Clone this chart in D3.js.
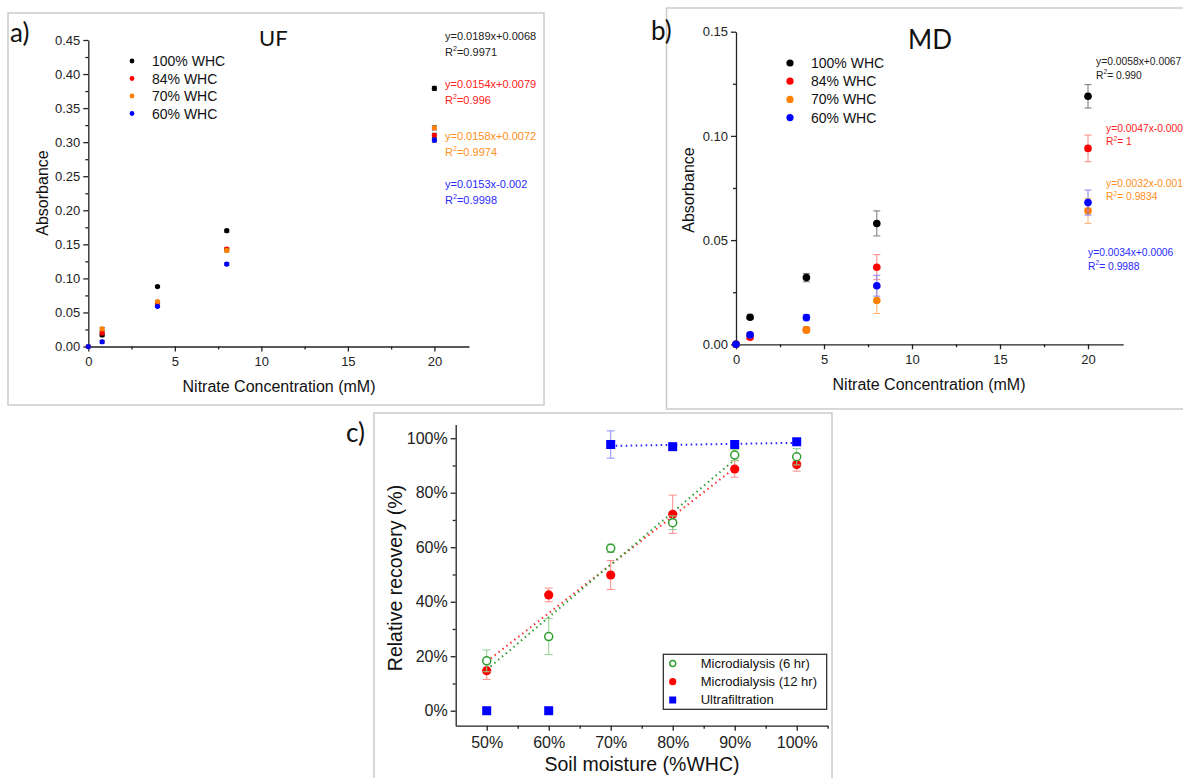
<!DOCTYPE html>
<html lang="en">
<head>
<meta charset="UTF-8">
<title>Nitrate recovery</title>
<script src="https://d3js.org/d3.v7.min.js"></script>
<style>
  body { margin: 0; background: #fff; }
  svg { display: block; font-family: "Liberation Sans", Arial, sans-serif; }
  .tick text { fill: #222; }
  .domain, .tick line { stroke: #222; stroke-width: 1.3; }
</style>
</head>
<body>
<div id="chart"></div>
<script>
// ---- data: calibration (UF) ----
const concUF = [0, 0.8, 4, 8, 20];
const uf100 = [0, 0.017, 0.088, 0.170, 0.379];
const uf84  = [0, 0.020, 0.064, 0.143, 0.310];
const uf70  = [0, 0.026, 0.066, 0.141, 0.321];
const uf60  = [0, 0.007, 0.059, 0.121, 0.303];
const ufErr = [0, 0.002, 0.001, 0.002, 0.003];

// ---- data: calibration (MD) ----
const concMD = [0, 0.8, 4, 8, 20];
const md100 = [0, 0.013, 0.032, 0.058, 0.119];
const md84  = [0, 0.0034, 0.007, 0.037, 0.094];
const md70  = [0, 0.0045, 0.0069, 0.021, 0.064];
const md60  = [0, 0.0045, 0.0128, 0.0281, 0.068];
const md100Err = [0, 0.001, 0.002, 0.006, 0.0056];
const md84Err  = [0, 0.001, 0.001, 0.006, 0.0064];
const md70Err  = [0, 0.001, 0.0015, 0.0062, 0.006];
const md60Err  = [0, 0.001, 0.0015, 0.005, 0.006];

const whcLabels = ["100% WHC", "84% WHC", "70% WHC", "60% WHC"];
const whcColors = ["#000000", "#ff0000", "#ff8000", "#0000ff"];
const errColors = ["#777777", "#ff8080", "#ffb070", "#8080ff"];
const textColors = ["#222222", "#ff2020", "#ff9020", "#2a2aff"];

const ufEq = [["y=0.0189x+0.0068", "=0.9971"], ["y=0.0154x+0.0079", "=0.996"],
              ["y=0.0158x+0.0072", "=0.9974"], ["y=0.0153x-0.002", "=0.9998"]];
const mdEq = [["y=0.0058x+0.0067", "= 0.990"], ["y=0.0047x-0.000", "= 1"],
              ["y=0.0032x-0.001", "= 0.9834"], ["y=0.0034x+0.0006", "= 0.9988"]];

// ---- data: relative recovery ----
const moisture = [50, 60, 70, 80, 90, 100];
const md6h  = [18.3, 27.2, 59.6, 69.0, 93.8, 93.2];
const md6hErr = [4, 6.6, 1.5, 2.5, 2, 3];
const md12h = [14.7, 42.5, 49.8, 72.1, 88.7, 90.4];
const md12hErr = [3.2, 2.5, 5.3, 7, 3, 2.5];
const ufRec = [0, 0, 97.7, 96.9, 97.7, 98.7];
const ufRecErr = [0, 0, 5, 0.8, 0.8, 0.8];
const recLabels = ["Microdialysis (6 hr)", "Microdialysis (12 hr)", "Ultrafiltration"];

const svg = d3.select("#chart").append("svg")
    .attr("width", 1183).attr("height", 778);
svg.append("rect").attr("width", 1183).attr("height", 778).attr("fill", "#fff");

// panel frames
[[8, 13, 536, 392], [666.5, 8, 540, 401], [374, 413, 458, 380]].forEach(f => {
  svg.append("rect").attr("x", f[0]).attr("y", f[1]).attr("width", f[2]).attr("height", f[3])
     .attr("fill", "none").attr("stroke", "#cccccc").attr("stroke-width", 1.5);
});

function axes(x, y, o) {
  const y0 = y.range()[0], x0 = x.range()[0];
  const bx = svg.append("g").attr("transform", "translate(0," + y0 + ")");
  bx.call(d3.axisBottom(x).tickValues(o.xMinor).tickSize(3).tickSizeOuter(0).tickFormat(""));
  bx.append("g").call(d3.axisBottom(x).tickValues(o.xMajor).tickSize(5).tickSizeOuter(0).tickFormat(o.xFmt))
    .call(g => g.select(".domain").remove())
    .selectAll("text").style("font-size", o.fs + "px").attr("dy", "0.9em");
  const ly = svg.append("g").attr("transform", "translate(" + x0 + ",0)");
  ly.call(d3.axisLeft(y).tickValues(o.yMinor).tickSize(3).tickSizeOuter(0).tickFormat(""));
  ly.append("g").call(d3.axisLeft(y).tickValues(o.yMajor).tickSize(5).tickSizeOuter(0).tickFormat(o.yFmt))
    .call(g => g.select(".domain").remove())
    .selectAll("text").style("font-size", o.fs + "px");
  svg.selectAll(".domain").attr("stroke-width", 1.5);
}

function label(x, y, t, size, opts) {
  const el = svg.append("text").attr("x", x).attr("y", y).text(t)
    .style("font-size", size + "px").attr("fill", "#111");
  if (opts && opts.anchor) el.attr("text-anchor", opts.anchor);
  if (opts && opts.rot) el.attr("transform", "rotate(-90," + x + "," + y + ")");
  if (opts && opts.family) el.style("font-family", opts.family);
  return el;
}

function eqText(x, y, lines, color, size, gap) {
  svg.append("text").attr("x", x).attr("y", y).text(lines[0])
     .style("font-size", size + "px").attr("fill", color);
  const t = svg.append("text").attr("x", x).attr("y", y + gap)
     .style("font-size", size + "px").attr("fill", color);
  t.append("tspan").text("R");
  t.append("tspan").text("2").attr("dy", -size * 0.4).style("font-size", (size * 0.65) + "px");
  t.append("tspan").text(lines[1]).attr("dy", size * 0.4);
}

function points(x, y, xs, ys, errs, color, ecolor, r, cap) {
  const g = svg.append("g");
  xs.forEach((xv, i) => {
    const e = errs[i];
    if (e > 0) {
      const cx = x(xv);
      g.append("line").attr("x1", cx).attr("x2", cx).attr("y1", y(ys[i] - e)).attr("y2", y(ys[i] + e))
        .attr("stroke", ecolor).attr("stroke-width", 1);
      [ys[i] - e, ys[i] + e].forEach(v => g.append("line")
        .attr("x1", cx - cap).attr("x2", cx + cap).attr("y1", y(v)).attr("y2", y(v))
        .attr("stroke", ecolor).attr("stroke-width", 1));
    }
  });
  g.selectAll("circle").data(xs).enter().append("circle")
    .attr("cx", d => x(d)).attr("cy", (d, i) => y(ys[i])).attr("r", r).attr("fill", color);
}

// ================= panel a (UF) =================
const xA = d3.scaleLinear().domain([0, 22]).range([88.3, 469]);
const yA = d3.scaleLinear().domain([0, 0.45]).range([346.5, 40]);
axes(xA, yA, {
  xMajor: [0, 5, 10, 15, 20], xMinor: [2.5, 7.5, 12.5, 17.5],
  yMajor: d3.range(0, 0.451, 0.05), yMinor: d3.range(0.025, 0.45, 0.05),
  xFmt: d3.format("d"), yFmt: d3.format(".2f"), fs: 13
});
const ufSeries = [uf100, uf84, uf70, uf60];
ufSeries.forEach((s, k) => points(xA, yA, concUF, s, ufErr, whcColors[k], "#333", 2.6, 2.5));
whcLabels.forEach((l, k) => {
  svg.append("circle").attr("cx", 132).attr("cy", 61 + k * 17.5).attr("r", 2.4).attr("fill", whcColors[k]);
  label(152, 66 + k * 17.5, l, 14);
});
[40, 88, 140, 188].forEach((yy, k) => eqText(445, yy, ufEq[k], textColors[k], 11, 15.5));
label(259, 46, "UF", 22, {family: "Lato, 'Open Sans', sans-serif"});
label(10, 42, "a)", 26, {family: "Lato, 'Open Sans', sans-serif"});
label(279, 392, "Nitrate Concentration (mM)", 16, {anchor: "middle"});
label(48, 193, "Absorbance", 16, {anchor: "middle", rot: true});

// ================= panel b (MD) =================
const xB = d3.scaleLinear().domain([0, 22]).range([736, 1123.2]);
const yB = d3.scaleLinear().domain([0, 0.15]).range([344.3, 31.7]);
axes(xB, yB, {
  xMajor: [0, 5, 10, 15, 20], xMinor: [2.5, 7.5, 12.5, 17.5],
  yMajor: [0, 0.05, 0.10, 0.15], yMinor: [0.025, 0.075, 0.125],
  xFmt: d3.format("d"), yFmt: d3.format(".2f"), fs: 13
});
const mdSeries = [md100, md84, md70, md60];
const mdErrs = [md100Err, md84Err, md70Err, md60Err];
mdSeries.forEach((s, k) => points(xB, yB, concMD, s, mdErrs[k], whcColors[k], errColors[k], 3.8, 3.5));
whcLabels.forEach((l, k) => {
  svg.append("circle").attr("cx", 790).attr("cy", 63 + k * 18.2).attr("r", 3.6).attr("fill", whcColors[k]);
  label(811, 68 + k * 18.2, l, 14);
});
[[1096, 65], [1106, 131.5], [1106, 186.5], [1088, 256]].forEach((p, k) =>
  eqText(p[0], p[1], mdEq[k], textColors[k], 10.3, 13.5));
label(908, 49, "MD", 26, {family: "Lato, 'Open Sans', sans-serif"});
label(651, 40, "b)", 26, {family: "Lato, 'Open Sans', sans-serif"});
label(929, 390, "Nitrate Concentration (mM)", 16, {anchor: "middle"});
label(694, 190, "Absorbance", 16, {anchor: "middle", rot: true});

// ================= panel c (recovery) =================
const xC = d3.scaleLinear().domain([45, 105]).range([455.7, 827.7]);
const yC = d3.scaleLinear().domain([-5.5, 105]).range([725.7, 424.6]);
const pct = d => d + "%";
axes(xC, yC, {
  xMajor: moisture, xMinor: [55, 65, 75, 85, 95, 105],
  yMajor: [0, 20, 40, 60, 80, 100], yMinor: [10, 30, 50, 70, 90],
  xFmt: pct, yFmt: pct, fs: 16
});

// linear fits of the plotted points
function fit(xs, ys) {
  const mx = d3.mean(xs), my = d3.mean(ys);
  const b = d3.sum(xs, (v, i) => (v - mx) * (ys[i] - my)) / d3.sum(xs, v => (v - mx) ** 2);
  return v => my + b * (v - mx);
}
const fits = [
  [moisture.slice(0, 5), md12h.slice(0, 5), "#ff3030"],
  [moisture.slice(0, 5), md6h.slice(0, 5), "#2e9e2e"],
  [moisture.slice(2), ufRec.slice(2), "#2020ff"]
];
fits.forEach(f => {
  const fn = fit(f[0], f[1]);
  const a = f[0][0], b = f[0][f[0].length - 1];
  svg.append("line").attr("x1", xC(a)).attr("x2", xC(b)).attr("y1", yC(fn(a))).attr("y2", yC(fn(b)))
    .attr("stroke", f[2]).attr("stroke-width", 2).attr("stroke-dasharray", "1.5,3.5");
});

points(xC, yC, moisture, md12h, md12hErr, "#ff0000", "#ff8c8c", 4.6, 4);
// open circles
(function () {
  const g = svg.append("g");
  moisture.forEach((m, i) => {
    const cx = xC(m), e = md6hErr[i];
    g.append("line").attr("x1", cx).attr("x2", cx).attr("y1", yC(md6h[i] - e)).attr("y2", yC(md6h[i] + e))
      .attr("stroke", "#8fcf8f").attr("stroke-width", 1);
    [md6h[i] - e, md6h[i] + e].forEach(v => g.append("line")
      .attr("x1", cx - 4).attr("x2", cx + 4).attr("y1", yC(v)).attr("y2", yC(v))
      .attr("stroke", "#8fcf8f").attr("stroke-width", 1));
  });
  g.selectAll("circle").data(moisture).enter().append("circle")
    .attr("cx", d => xC(d)).attr("cy", (d, i) => yC(md6h[i])).attr("r", 4)
    .attr("fill", "#fff").attr("stroke", "#2e9e2e").attr("stroke-width", 1.5);
})();
// squares
(function () {
  const g = svg.append("g");
  moisture.forEach((m, i) => {
    const cx = xC(m), e = ufRecErr[i];
    if (e > 1) {
      g.append("line").attr("x1", cx).attr("x2", cx).attr("y1", yC(ufRec[i] - e)).attr("y2", yC(ufRec[i] + e))
        .attr("stroke", "#8c8cff").attr("stroke-width", 1);
      [ufRec[i] - e, ufRec[i] + e].forEach(v => g.append("line")
        .attr("x1", cx - 4).attr("x2", cx + 4).attr("y1", yC(v)).attr("y2", yC(v))
        .attr("stroke", "#8c8cff").attr("stroke-width", 1));
    }
  });
  g.selectAll("rect").data(moisture).enter().append("rect")
    .attr("x", d => xC(d) - 4.5).attr("y", (d, i) => yC(ufRec[i]) - 4.5)
    .attr("width", 9).attr("height", 9).attr("fill", "#0000ff");
})();

// legend c
svg.append("rect").attr("x", 663.3).attr("y", 654.3).attr("width", 163.4).attr("height", 55)
  .attr("fill", "#fff").attr("stroke", "#222").attr("stroke-width", 1.2);
svg.append("circle").attr("cx", 672.7).attr("cy", 663.5).attr("r", 3)
  .attr("fill", "#fff").attr("stroke", "#2e9e2e").attr("stroke-width", 1.4);
svg.append("circle").attr("cx", 672.7).attr("cy", 681.7).attr("r", 3.6).attr("fill", "#ff0000");
svg.append("rect").attr("x", 669.2).attr("y", 696.5).attr("width", 7).attr("height", 7).attr("fill", "#0000ff");
recLabels.forEach((l, k) => label(700.7, 668 + k * 18.2, l, 13));

label(346, 442, "c)", 26, {family: "Lato, 'Open Sans', sans-serif"});
label(642, 771, "Soil moisture (%WHC)", 19.5, {anchor: "middle"});
label(402, 578, "Relative recovery (%)", 19.5, {anchor: "middle", rot: true});
</script>
</body>
</html>
